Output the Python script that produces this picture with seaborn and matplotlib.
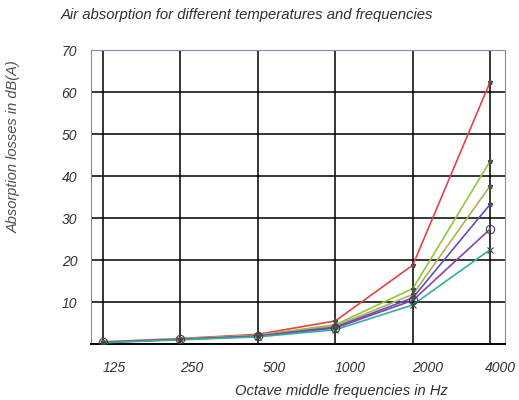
import numpy as np
import pandas as pd
import matplotlib
matplotlib.use("Agg")
import matplotlib.pyplot as plt
import matplotlib.transforms as mtransforms
import seaborn as sns

freqs = ["125", "250", "500", "1000", "2000", "4000"]
series = ["T1", "T2", "T3", "T4", "T5", "T6"]
s1 = [0.5, 1.3, 2.3, 5.5, 18.8, 62.5]
s2 = [0.5, 1.2, 2.1, 4.6, 13.2, 43.6]
s3 = [0.4, 1.2, 2.0, 4.3, 11.8, 37.7]
s4 = [0.4, 1.1, 1.9, 4.0, 11.0, 33.3]
s5 = [0.4, 1.1, 1.8, 3.8, 10.4, 27.4]
s6 = [0.3, 1.0, 1.7, 3.4, 9.3, 22.5]
colors = ["#e8404c", "#8cc840", "#b0b050", "#5a50c0", "#9040a8", "#30b0a0"]
markers = ["*", "*", "*", "*", "o", "X"]

values = [s1, s2, s3, s4, s5, s6]
df = pd.DataFrame({
    "freq": np.tile(np.arange(len(freqs)), len(series)),
    "val": np.concatenate(values),
    "series": np.repeat(series, len(freqs)),
})

sns.set_theme(style="white")
plt.rcParams["font.family"] = ["Liberation Sans", "DejaVu Sans"]

fig = plt.figure(figsize=(5.19, 4.0), dpi=100)
ax = fig.add_axes([91/519, 56/400, (505-91)/519, (344-50)/400])

sns.lineplot(data=df, x="freq", y="val", hue="series", style="series",
             palette=colors, markers=False, dashes=False, linewidth=1.2,
             legend=False, ax=ax, zorder=3)
for i, (vals, mk) in enumerate(zip(values, markers)):
    if mk == "*":
        ax.plot(np.arange(len(freqs)), vals, linestyle="none", marker="*",
                ms=3.5, color="#505050", zorder=4)
    elif mk == "o":
        ax.plot(np.arange(len(freqs)), vals, linestyle="none", marker="o",
                ms=6, mfc="none", mec="#404040", mew=0.8, zorder=4)
    else:
        ax.plot(np.arange(len(freqs)), vals, linestyle="none", marker="x",
                ms=5, color="#404040", mew=0.8, zorder=4)

ax.set_xlim(-0.155, 5.19)
ax.set_ylim(0, 70)
ax.set_xticks(np.arange(len(freqs)))
ax.set_xticklabels(freqs)
ax.set_yticks([10, 20, 30, 40, 50, 60, 70])
ax.set_yticklabels(["10", "20", "30", "40", "50", "60", "70"])
ax.grid(True, color="black", linewidth=1.1)
ax.set_axisbelow(True)
ax.tick_params(axis="both", length=0, labelsize=10, labelcolor="#303030")
ax.tick_params(axis="x", pad=12)
ax.tick_params(axis="y", pad=10)
for lbl in ax.get_xticklabels() + ax.get_yticklabels():
    lbl.set_fontstyle("italic")
label_shift = [11, 11, 16, 15, 15, 10]
for lbl, dx in zip(ax.get_xticklabels(), label_shift):
    off = mtransforms.ScaledTranslation(dx/100, 0, fig.dpi_scale_trans)
    lbl.set_transform(lbl.get_transform() + off)

for side in ["left", "top", "right"]:
    ax.spines[side].set_color("#8888aa")
    ax.spines[side].set_linewidth(0.8)
ax.spines["bottom"].set_color("black")
ax.spines["bottom"].set_linewidth(1.4)

ax.set_xlabel("Octave middle frequencies in Hz", fontsize=10.6, fontstyle="italic",
              color="#303030")
ax.xaxis.set_label_coords((341-91)/414, (344-391)/294)
ax.xaxis.label.set_va("center")
ax.set_ylabel("Absorption losses in dB(A)", fontsize=10.5, fontstyle="italic",
              color="#505050")
ax.yaxis.set_label_coords(-0.17, 0.67)
fig.text(61/519, 1 - 15/400, "Air absorption for different temperatures and frequencies",
         fontsize=10.7, fontstyle="italic", color="#303030", ha="left", va="center")

fig.savefig("out.png", dpi=100, facecolor="white")
